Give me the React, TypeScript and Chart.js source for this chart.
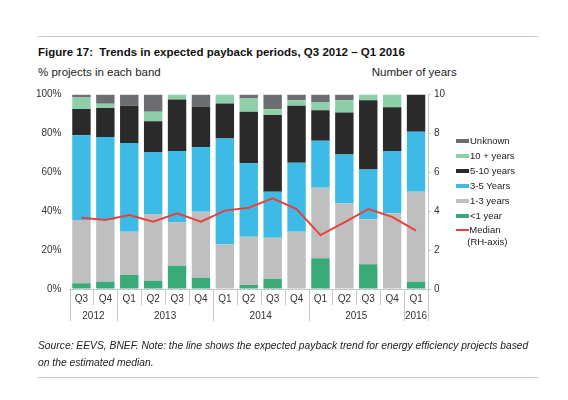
import React, { useEffect, useRef } from "react";
import { Chart, registerables } from "chart.js";

Chart.register(...registerables);

const FONT = "'Liberation Sans', Arial, Helvetica, sans-serif";

const quarters = ["Q3", "Q4", "Q1", "Q2", "Q3", "Q4", "Q1", "Q2", "Q3", "Q4", "Q1", "Q2", "Q3", "Q4", "Q1"];
const years = ["2012", "2013", "2014", "2015", "2016"];
const yearSpans = [2, 4, 4, 4, 1];

const lessThan1 = [3, 3.7, 7.2, 4.3, 12, 5.8, 0, 2, 5.1, 0, 15.8, 0, 12.7, 0, 3.7];
const oneToThree = [32.5, 31.7, 22.2, 34.2, 22.3, 33.9, 23, 24.9, 21.3, 29.4, 36.2, 44, 23.1, 38.9, 46.3];
const threeToFive = [43.5, 42.8, 45.7, 32, 36.6, 33.2, 54.4, 37.7, 23.6, 35.5, 24.2, 25.2, 25.7, 32.1, 30.8];
const fiveToTen = [13.5, 14.9, 19.1, 15.8, 26.5, 20.7, 18, 26.5, 39.4, 29.3, 15.7, 21.5, 35.6, 22.5, 19.2];
const tenPlus = [6, 2.2, 0, 4.8, 2.6, 0, 4.6, 6.8, 3, 2.9, 4.3, 6.4, 2.9, 6.5, 0];
const unknown = [1.5, 4.7, 5.8, 8.9, 0, 6.4, 0, 2.1, 7.6, 2.9, 3.8, 2.9, 0, 0, 0];
const median = [3.66, 3.55, 3.8, 3.46, 3.89, 3.46, 4.03, 4.18, 4.66, 4.11, 2.77, 3.43, 4.11, 3.71, 3.0];

const leftTicks = [0, 20, 40, 60, 80, 100];
const rightTicks = [0, 2, 4, 6, 8, 10];

const COLORS = {
  lt1: "#3aaa78",
  one3: "#c0bfbf",
  three5: "#3dbbe6",
  five10: "#2a2a2a",
  ten: "#8ccfa8",
  unk: "#6d6e71",
  median: "#e8413d",
};

const legendItems = [
  { label: "Unknown", color: COLORS.unk, y: 141 },
  { label: "10 + years", color: COLORS.ten, y: 156 },
  { label: "5-10 years", color: COLORS.five10, y: 171 },
  { label: "3-5 Years", color: COLORS.three5, y: 185.7 },
  { label: "1-3 years", color: COLORS.one3, y: 200.7 },
  { label: "<1 year", color: COLORS.lt1, y: 215.7 },
];

const yearPlugin = {
  id: "yearAxis",
  afterDraw(chart: any) {
    const xs = chart.scales.x;
    const ctx = chart.ctx;
    const n = quarters.length;
    const bound = (i: number) =>
      i === 0 ? xs.left : i === n ? xs.right : (xs.getPixelForValue(i - 1) + xs.getPixelForValue(i)) / 2;
    const bottom = chart.chartArea.bottom;
    const yb = new Set<number>();
    let acc = 0;
    yb.add(0);
    yearSpans.forEach((s) => {
      acc += s;
      yb.add(acc);
    });
    ctx.save();
    ctx.strokeStyle = "#c6c6c6";
    ctx.lineWidth = 1;
    for (let i = 0; i <= n; i++) {
      const x = Math.round(bound(i)) + 0.5;
      const len = yb.has(i) ? 32 : 16;
      ctx.beginPath();
      ctx.moveTo(x, bottom);
      ctx.lineTo(x, bottom + len);
      ctx.stroke();
    }
    ctx.fillStyle = "#333";
    ctx.font = `10px ${FONT}`;
    ctx.textAlign = "center";
    ctx.textBaseline = "middle";
    acc = 0;
    years.forEach((yr, k) => {
      const a = bound(acc);
      const b = bound(acc + yearSpans[k]);
      ctx.fillText(yr, (a + b) / 2, bottom + 27.5);
      acc += yearSpans[k];
    });
    ctx.restore();
  },
};

export default function App() {
  const ref = useRef<HTMLCanvasElement>(null);

  useEffect(() => {
    if (!ref.current) return;
    Chart.defaults.font.family = FONT;
    const bar = (label: string, data: number[], color: string) => ({
      type: "bar" as const,
      label,
      data,
      backgroundColor: color,
      borderWidth: 0,
      yAxisID: "y",
      order: 1,
      barPercentage: 0.77,
      categoryPercentage: 1,
    });
    const chart = new Chart(ref.current, {
      type: "bar",
      data: {
        labels: quarters,
        datasets: [
          {
            type: "line" as const,
            label: "Median (RH-axis)",
            data: median,
            borderColor: COLORS.median,
            borderWidth: 2,
            pointRadius: 0,
            tension: 0,
            yAxisID: "y1",
            order: 0,
          } as any,
          bar("<1 year", lessThan1, COLORS.lt1),
          bar("1-3 years", oneToThree, COLORS.one3),
          bar("3-5 Years", threeToFive, COLORS.three5),
          bar("5-10 years", fiveToTen, COLORS.five10),
          bar("10 + years", tenPlus, COLORS.ten),
          bar("Unknown", unknown, COLORS.unk),
        ],
      },
      options: {
        responsive: false,
        animation: false,
        layout: { padding: { top: 94.5, left: 0, right: 0, bottom: 0 } },
        plugins: { legend: { display: false }, tooltip: { enabled: false } },
        scales: {
          x: {
            stacked: true,
            offset: true,
            grid: { display: true, drawOnChartArea: false, drawTicks: false },
            border: { display: true, color: "#c6c6c6" },
            ticks: { padding: 4, color: "#333", font: { size: 10 }, maxRotation: 0, autoSkip: false },
            afterFit: (s: any) => {
              s.height = 111;
            },
          },
          y: {
            position: "left",
            stacked: true,
            min: 0,
            max: 100,
            afterBuildTicks: (s: any) => {
              s.ticks = leftTicks.map((v) => ({ value: v }));
            },
            ticks: { padding: 8, color: "#333", font: { size: 10 }, callback: (v: any) => v + "%" },
            grid: { display: true, drawOnChartArea: false, drawTicks: false },
            border: { display: false },
            afterFit: (s: any) => {
              s.width = 69.5;
            },
          },
          y1: {
            position: "right",
            min: 0,
            max: 10,
            afterBuildTicks: (s: any) => {
              s.ticks = rightTicks.map((v) => ({ value: v }));
            },
            ticks: { padding: 3, color: "#333", font: { size: 10 } },
            grid: { display: true, drawOnChartArea: false, drawTicks: true, tickLength: 3, color: "#c6c6c6" },
            border: { display: true, color: "#c6c6c6" },
            afterFit: (s: any) => {
              s.width = 140;
            },
          },
        },
      } as any,
      plugins: [yearPlugin],
    });
    return () => chart.destroy();
  }, []);

  const text = "#222";
  return (
    <div
      style={{
        position: "fixed",
        left: 0,
        top: 0,
        width: 568,
        height: 400,
        background: "#fff",
        fontFamily: FONT,
        overflow: "hidden",
      }}
    >
      <div style={{ position: "absolute", left: 38, top: 36, width: 500, height: 1, background: "#c9c3d9" }} />
      <div
        style={{
          position: "absolute",
          left: 38,
          top: 44.7,
          fontSize: 11.5,
          lineHeight: "14px",
          fontWeight: "bold",
          color: "#111",
          whiteSpace: "pre",
        }}
      >
        {"Figure 17:  Trends in expected payback periods, Q3 2012 – Q1 2016"}
      </div>
      <div style={{ position: "absolute", left: 38, top: 65, fontSize: 11.5, lineHeight: "14px", color: text }}>
        % projects in each band
      </div>
      <div style={{ position: "absolute", left: 371.7, top: 65, fontSize: 11.5, lineHeight: "14px", color: text }}>
        Number of years
      </div>
      <canvas
        ref={ref}
        width={568}
        height={400}
        style={{ position: "absolute", left: 0, top: 0, width: 568, height: 400, display: "block" }}
      />
      {legendItems.map((it) => (
        <React.Fragment key={it.label}>
          <div
            style={{ position: "absolute", left: 456, top: it.y - 2, width: 13, height: 4, background: it.color }}
          />
          <div
            style={{
              position: "absolute",
              left: 470,
              top: it.y - 6,
              fontSize: 9.5,
              lineHeight: "12px",
              color: text,
              whiteSpace: "pre",
            }}
          >
            {it.label}
          </div>
        </React.Fragment>
      ))}
      <div style={{ position: "absolute", left: 456, top: 229.3, width: 13, height: 2, background: COLORS.median }} />
      <div
        style={{
          position: "absolute",
          left: 469.3,
          top: 224.3,
          fontSize: 9.5,
          lineHeight: "12px",
          color: text,
          whiteSpace: "pre",
        }}
      >
        Median
      </div>
      <div
        style={{
          position: "absolute",
          left: 467.3,
          top: 236.3,
          fontSize: 9.5,
          lineHeight: "12px",
          color: text,
          whiteSpace: "pre",
        }}
      >
        (RH-axis)
      </div>
      <div
        style={{
          position: "absolute",
          left: 38,
          top: 338.2,
          width: 510,
          fontSize: 10.3,
          lineHeight: "16.5px",
          fontStyle: "italic",
          color: text,
        }}
      >
        Source: EEVS, BNEF. Note: the line shows the expected payback trend for energy efficiency projects based
        <br />
        on the estimated median.
      </div>
      <div style={{ position: "absolute", left: 38, top: 377, width: 500, height: 1, background: "#c9c3d9" }} />
    </div>
  );
}
